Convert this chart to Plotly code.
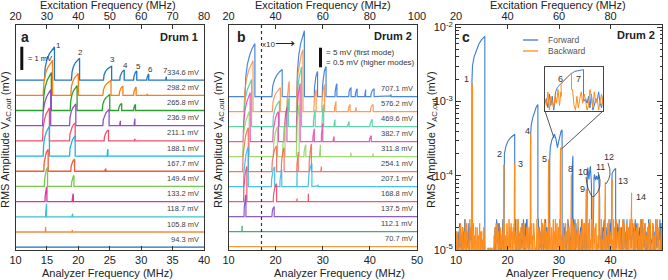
import plotly.graph_objects as go

FONT = "Liberation Sans, Arial, Helvetica, sans-serif"
W, H = 668, 280

# ---------------- Panel a (Drum 1) ----------------
a_labels = ["334.6 mV", "298.2 mV", "265.8 mV", "236.9 mV", "211.1 mV", "188.1 mV",
            "167.7 mV", "149.4 mV", "133.2 mV", "118.7 mV", "105.8 mV", "94.3 mV"]
a_colors = ["#1f77c4", "#ff7f0e", "#2ca02c", "#8c52c4", "#f4506a", "#1cb3ea",
            "#f45a3a", "#78c850", "#e0349c", "#3cc4c8", "#f58a3c", "#1f6fb8"]
# peaks per trace: (onset MHz, jump-down MHz, height mV)
a_peaks = [
    [(14.6, 16.2, 1.42), (18.9, 20.2, 0.94), (24.0, 25.3, 0.60), (26.6, 27.3, 0.43),
     (28.8, 29.3, 0.39), (30.9, 31.2, 0.26), (33.9, 34.0, 0.15)],
    [(14.4, 15.9, 1.50), (18.8, 20.0, 0.94), (23.9, 25.2, 0.64), (26.5, 27.1, 0.39),
     (28.8, 29.2, 0.36), (30.9, 31.0, 0.06)],
    [(14.4, 15.7, 1.63), (18.7, 19.8, 1.07), (23.8, 25.0, 0.69), (26.4, 26.9, 0.30),
     (28.8, 29.1, 0.26)],
    [(14.3, 15.6, 1.55), (18.6, 19.6, 0.94), (23.9, 24.9, 0.69), (26.6, 26.7, 0.21),
     (28.9, 29.0, 0.30)],
    [(14.3, 15.4, 1.42), (18.6, 19.5, 0.77), (24.1, 24.8, 0.47), (28.9, 29.0, 0.09)],
    [(14.4, 15.4, 1.29), (18.6, 19.5, 0.86), (24.6, 24.7, 0.30)],
    [(14.5, 15.2, 0.94), (18.8, 19.4, 0.52), (24.2, 24.4, 0.11)],
    [(14.6, 15.1, 0.82), (18.9, 19.3, 0.47)],
    [(14.7, 15.0, 0.64), (19.0, 19.2, 0.34)],
    [(14.8, 14.95, 0.56), (19.0, 19.1, 0.13)],
    [(14.75, 14.8, 0.21), (19.0, 19.05, 0.09)],
    [],
]
a_peak_numbers = ["1", "2", "3", "4", "5", "6", "7"]
a_step = 0.652          # mV between stacked traces
a_scale_bar_mV = 1.0

# ---------------- Panel b (Drum 2) ----------------
b_labels = ["707.1 mV", "576.2 mV", "469.6 mV", "382.7 mV", "311.8 mV", "254.1 mV",
            "207.1 mV", "168.8 mV", "137.5 mV", "112.1 mV", "70.7 mV"]
b_colors = ["#2f72d8", "#ff8a3d", "#48cc9c", "#e040a8", "#8ed35c", "#f5604c",
            "#2ab6ea", "#f23c5c", "#7a3fc2", "#22a062", "#f28c1e"]
b_peaks = [
    [(13.5, 15.6, 13.5), (19.2, 21.4, .69), (24.5, 26.1, 1.68), (28.2, 28.9, .64), (29.9, 30.7, .77),
     (32.6, 33.0, .33), (35.5, 36.0, .23), (36.9, 37.3, .20), (38.9, 39.1, .18), (40.2, 40.9, .20),
     (44.3, 44.5, .05)],
    [(13.3, 15.2, 13.0), (19.3, 21.0, .61), (22.4, 22.9, .77), (24.4, 25.8, 1.58), (28.1, 28.6, .56),
     (29.8, 30.4, .69), (32.5, 32.8, .26), (35.4, 35.8, .18), (36.9, 37.1, .10), (40.1, 40.7, .18)],
    [(13.2, 14.9, 12.0), (19.4, 20.8, .66), (22.2, 22.7, .71), (24.4, 25.5, 1.53), (28.0, 28.4, .41),
     (29.8, 30.2, .56), (32.4, 32.6, .18), (35.3, 35.6, .13), (40.0, 40.5, .18)],
    [(13.1, 14.6, 12.5), (19.4, 20.6, .77), (21.8, 22.4, .87), (24.4, 25.2, 1.48), (27.9, 28.2, .33),
     (29.7, 30.0, .46), (32.2, 32.4, .13), (39.9, 40.3, .15)],
    [(13.0, 14.4, 11.5), (19.5, 20.4, .77), (21.5, 22.0, .82), (24.4, 25.0, 1.33), (26.0, 26.4, .30),
     (29.3, 29.5, .30), (35.9, 36.0, .10), (40.6, 40.7, .08)],
    [(13.0, 14.2, 11.2), (19.2, 20.2, .66), (21.2, 21.8, .61), (24.5, 24.8, .50), (27.1, 27.6, .71),
     (29.6, 29.7, .13)],
    [(13.2, 14.2, 10.2), (19.1, 19.8, .51), (20.9, 21.3, .43), (24.5, 24.55, .41), (26.9, 27.7, .59),
     (29.0, 29.05, .05)],
    [(13.2, 13.9, 9.0), (19.5, 20.2, .46), (24.5, 24.55, .08), (26.9, 26.95, .20)],
    [(13.3, 13.7, 5.6), (19.2, 19.7, .26)],
    [(12.85, 12.9, 1.5)],
    [],
]
b_step = 3.83            # plot units (mV of first mode) between traces
b_split_MHz = 17.0       # right of this line higher modes are magnified x10
b_gain_high = 10.0

# ---------------- Panel c (Drum 2, log) ----------------
c_f_start, c_f_step = 10.0, 0.1
c_noise_fwd = ("2504613827" "4137062958" "0625381746" "3718250469" "1493607285" "5260831010"
               "0101201020" "1002047169" "5383815402" "6970964275" "1834372816" "0592859034"
               "7165106728" "3941683947" "2503497162" "5080825316" "9474260783" "1592917504"
               "6385038269" "4171754093" "2863690418" "5726143987" "0352816497" "4918263705"
               "1675930428" "3049176582" "6281534970" "2793648105" "4506172893" "1367285049"
               "5842916370" "0258473916" "3714089625" "6190354782" "2548761093" "4831607259"
               "1975423806" "5062938714" "3487016592" "6723549180" "4")
c_noise_bwd = ("3615204738" "5207416293" "1846302957" "4062815370" "2730548162" "6041721010"
               "1020101201" "0120527384" "4816037252" "2694815038" "5039271846" "1748360529"
               "3925017486" "6182540739" "2470693815" "4853120967" "0716349285" "3592806174"
               "5281473069" "1639058427" "4927150368" "2058364917" "6314829057" "0872563941"
               "3506197248" "5163742809" "1429608573" "4780315296" "2397041658" "6051873924"
               "3628409175" "0934562817" "5217938460" "1863074592" "4395218706" "2748605139"
               "6019374825" "3572816940" "0486253197" "5934701268" "3")
# forward sweep branches: (MHz, log10 V in mV)
c_fwd_peaks = [
    [(13.1, -2.73), (13.2, -2.52), (13.5, -2.40), (13.9, -2.31), (14.4, -2.23), (14.9, -2.17), (15.3, -2.14), (15.6, -2.12)],
    [(19.3, -3.85), (19.4, -3.70), (19.7, -3.60), (20.1, -3.53), (20.7, -3.48), (21.4, -3.44)],
    [(24.5, -3.44), (24.6, -3.32), (24.9, -3.22), (25.3, -3.12), (25.6, -3.07), (25.9, -3.04)],
    [(28.2, -3.78), (28.3, -3.62), (28.6, -3.52), (28.9, -3.46), (29.1, -3.44), (29.4, -3.50), (29.7, -3.62),
     (29.9, -3.55), (30.2, -3.45), (30.4, -3.40), (30.6, -3.38)],
    [(32.5, -4.02), (32.6, -3.85), (32.7, -3.73)],
    [(35.4, -4.30), (35.5, -3.96), (35.6, -3.89), (35.8, -4.05), (36.0, -3.92), (36.1, -3.87), (36.3, -4.12)],
    [(36.7, -4.25), (36.8, -4.02), (36.9, -3.98), (37.1, -4.06), (37.3, -4.00), (37.5, -4.05), (37.7, -3.98), (37.9, -4.30)],
    [(40.2, -4.10), (40.3, -3.97), (40.6, -3.93), (41.0, -3.90)],
]
# backward sweep jumps: (MHz, log10 V in mV)
c_bwd_peaks = [(13.2, -2.75), (19.3, -3.85), (21.4, -3.84), (24.5, -3.44), (28.0, -3.78), (30.3, -3.62),
               (32.4, -3.98), (35.3, -4.18), (36.6, -4.27), (37.8, -4.18), (39.0, -4.09), (40.3, -4.05),
               (44.1, -4.23)]
c_floor = 1e-6
c_mode_labels = ["1", "2", "3", "4", "5", "6", "7", "8", "9", "10", "11", "12", "13", "14"]

# inset (modes 6,7)
i_f_start, i_f_step = 29.4, 0.035
i_noise_fwd = "35172604835261704825316072845361702548316"
i_noise_bwd = "52806417392860514739206158374029618350472"
i_fwd_peak = [(29.66, -3.58), (29.70, -3.53), (29.80, -3.48), (29.92, -3.43), (30.02, -3.38),
              (30.12, -3.35), (30.22, -3.34), (30.33, -3.33)]
i_bwd_peak = [(29.79, -3.50), (29.86, -3.45), (29.94, -3.41), (30.04, -3.37)]

# ---------------- helpers ----------------
DUFF_T = [0.0, 0.08, 0.25, 0.5, 0.75, 1.0]
DUFF_Y = [0.0, 0.38, 0.62, 0.80, 0.92, 1.0]


def stacked(x0, x1, base, peaks, gain):
    xs, ys = [x0], [base]
    for f0, f1, h in peaks:
        hh = h * gain(f1)
        xs.append(f0); ys.append(base)
        for t, yf in zip(DUFF_T, DUFF_Y):
            xs.append(f0 + t * (f1 - f0)); ys.append(base + yf * hh)
        xs.append(f1); ys.append(base)
    xs.append(x1); ys.append(base)
    return xs, ys


def merge(grid, noise, peaks):
    xs, ys = [], []
    i, n = 0, len(grid)
    for pts in peaks:
        fs, fe = pts[0][0], pts[-1][0]
        while i < n and grid[i] < fs:
            xs.append(grid[i]); ys.append(noise[i]); i += 1
        xs.append(fs); ys.append(noise[min(i, n - 1)])
        for f, v in pts:
            xs.append(f); ys.append(v)
        while i < n and grid[i] <= fe:
            i += 1
        xs.append(fe); ys.append(noise[min(i, n - 1)])
    while i < n:
        xs.append(grid[i]); ys.append(noise[i]); i += 1
    return xs, ys


def px(x):
    return x / W


def py(y):
    return 1 - y / H


fig = go.Figure()

# panel a traces
na = len(a_labels)
for k in range(na):
    base = (na - 1 - k) * a_step
    xs, ys = stacked(10, 40, base, a_peaks[k], lambda f: 1.0)
    fig.add_trace(go.Scatter(x=xs, y=ys, mode="lines", line=dict(color=a_colors[k], width=1.3),
                             xaxis="x", yaxis="y", hoverinfo="skip"))

# panel b traces
nb = len(b_labels)
for k in range(nb):
    base = (nb - 1 - k) * b_step
    xs, ys = stacked(10, 50, base, b_peaks[k], lambda f: 1.0 if f < b_split_MHz else b_gain_high)
    fig.add_trace(go.Scatter(x=xs, y=ys, mode="lines", line=dict(color=b_colors[k], width=1.2),
                             opacity=0.85, xaxis="x2", yaxis="y2", hoverinfo="skip"))

# panel c traces
grid = [c_f_start + c_f_step * i for i in range(len(c_noise_fwd))]
nf = [-5.08 + 0.055 * int(ch) for ch in c_noise_fwd]
nbw = [-5.08 + 0.055 * int(ch) for ch in c_noise_bwd]
bwd_pts = [[(f - 0.08, v - 0.35), (f, v)] for f, v in c_bwd_peaks]
fx, fy = merge(grid, nf, c_fwd_peaks)
bx, by = merge(grid, nbw, bwd_pts)
fig.add_trace(go.Scatter(x=fx, y=[10 ** v for v in fy], mode="lines", line=dict(color="#3a7bd5", width=1.1),
                         xaxis="x3", yaxis="y3", hoverinfo="skip"))
fig.add_trace(go.Scatter(x=[grid[0], grid[-1]], y=[c_floor, c_floor], mode="lines", line=dict(width=0),
                         xaxis="x3", yaxis="y3", hoverinfo="skip"))
fig.add_trace(go.Scatter(x=bx, y=[10 ** v for v in by], mode="lines", line=dict(color="#ff8c1a", width=1.0),
                         fill="tonexty", fillcolor="rgba(255,140,26,0.72)",
                         xaxis="x3", yaxis="y3", hoverinfo="skip"))

# inset
igrid = [i_f_start + i_f_step * i for i in range(len(i_noise_fwd))]
inf = [-3.79 + 0.026 * int(ch) for ch in i_noise_fwd]
inb = [-3.79 + 0.026 * int(ch) for ch in i_noise_bwd]
ifx, ify = merge(igrid, inf, [i_fwd_peak])
ibx, iby = merge(igrid, inb, [i_bwd_peak])
fig.add_trace(go.Scatter(x=ifx, y=ify, mode="lines", line=dict(color="#3a7bd5", width=1.0),
                         xaxis="x7", yaxis="y7", hoverinfo="skip"))
fig.add_trace(go.Scatter(x=ibx, y=iby, mode="lines", line=dict(color="#ff8c1a", width=1.0),
                         xaxis="x7", yaxis="y7", hoverinfo="skip"))

# empty traces to activate top axes
for xa, ya in (("x4", "y"), ("x5", "y2"), ("x6", "y3")):
    fig.add_trace(go.Scatter(x=[None], y=[None], xaxis=xa, yaxis=ya, showlegend=False, hoverinfo="skip"))

YDOM = [py(250), py(25)]
XA = [px(15.5), px(204)]
XB = [px(228.5), px(417)]
XC = [px(456), px(662)]
LC = "#333333"
tickfont = dict(size=11, color="#222", family=FONT)
common_x = dict(showline=True, linecolor=LC, linewidth=1, ticks="inside", ticklen=4, tickcolor=LC,
                showgrid=False, zeroline=False, tickfont=tickfont, fixedrange=True, automargin=False)
common_y = dict(showline=True, linecolor=LC, linewidth=1, mirror=True, ticks="", showticklabels=False,
                showgrid=False, zeroline=False, fixedrange=True, automargin=False)

decades = [1e-5, 1e-4, 1e-3, 1e-2]
minor_vals = [m * d for d in [1e-5, 1e-4, 1e-3] for m in range(2, 10)]

a_range_lo = -0.12
a_range_hi = a_range_lo + 225 / 23.3

fig.update_layout(
    template="none",
    width=W, height=H, margin=dict(l=0, r=0, t=0, b=0, autoexpand=False), showlegend=False,
    paper_bgcolor="white", plot_bgcolor="white", font=dict(family=FONT, color="#222"),
    xaxis=dict(domain=XA, range=[10, 40], tickvals=[10, 15, 20, 25, 30, 35, 40], anchor="y", **common_x),
    yaxis=dict(domain=YDOM, range=[a_range_lo, a_range_hi], anchor="x", **common_y),
    xaxis2=dict(domain=XB, range=[10, 50], tickvals=[10, 20, 30, 40, 50], anchor="y2", **common_x),
    yaxis2=dict(domain=YDOM, range=[-0.84, 56.56], anchor="x2", **common_y),
    xaxis3=dict(domain=XC, range=[10, 50], tickvals=[10, 20, 30, 40, 50], anchor="y3", **common_x),
    yaxis3=dict(domain=YDOM, type="log", range=[-5.0, -1.967], anchor="x3", showline=True, linecolor=LC,
                mirror="ticks", ticks="inside", ticklen=5, tickcolor=LC, tickvals=decades,
                ticktext=["10<sup>-5</sup>", "10<sup>-4</sup>", "10<sup>-3</sup>", "10<sup>-2</sup>"],
                tickfont=tickfont, showgrid=False, zeroline=False, fixedrange=True, automargin=False,
                minor=dict(tickvals=minor_vals, ticks="inside", ticklen=2.5, tickcolor=LC, showgrid=False)),
    xaxis4=dict(overlaying="x", side="top", anchor="y", range=[20, 80], tickvals=[20, 30, 40, 50, 60, 70, 80],
                **common_x),
    xaxis5=dict(overlaying="x2", side="top", anchor="y2", range=[20, 100], tickvals=[20, 40, 60, 80, 100],
                **common_x),
    xaxis6=dict(overlaying="x3", side="top", anchor="y3", range=[20, 100], tickvals=[20, 40, 60, 80, 100],
                **common_x),
    xaxis7=dict(domain=[px(545), px(603)], range=[i_f_start, i_f_start + i_f_step * (len(igrid) - 1)],
                anchor="y7", showline=True, mirror=True, linecolor="#444", linewidth=1.2, ticks="",
                showticklabels=False, showgrid=False, zeroline=False, fixedrange=True, automargin=False),
    yaxis7=dict(domain=[py(111), py(67)], range=[-3.80, -3.30], anchor="x7", showline=True, mirror=True,
                linecolor="#444", linewidth=1.2, ticks="", showticklabels=False, showgrid=False,
                zeroline=False, fixedrange=True, automargin=False),
)

ann = []


def T(x, y, text, size=11, xanchor="center", bold=False, color="#222", angle=0, xref="paper", yref="paper"):
    if bold:
        text = "<b>" + text + "</b>"
    ann.append(dict(x=x, y=y, xref=xref, yref=yref, text=text, showarrow=False, xanchor=xanchor,
                    yanchor="middle", textangle=angle, font=dict(size=size, color=color, family=FONT)))


# axis titles
T(px(107.5), py(5), "Excitation Frequency (MHz)", 11)
T(px(323), py(5), "Excitation Frequency (MHz)", 11)
T(px(558), py(5), "Excitation Frequency (MHz)", 11)
T(px(107.5), py(273), "Analyzer Frequency (MHz)", 11)
T(px(339), py(273), "Analyzer Frequency (MHz)", 11)
T(px(571.7), py(273), "Analyzer Frequency (MHz)", 11)
ytitle = "RMS Amplitude V<sub>AC,out</sub> (mV)"
T(px(6), py(140), ytitle, 11, angle=-90)
T(px(219), py(140), ytitle, 11, angle=-90)
T(px(432), py(140), ytitle, 11, angle=-90)

# panel labels
T(px(25), py(37), "a", 14, bold=True)
T(px(241), py(37), "b", 14, bold=True)
T(px(466), py(37), "c", 14, bold=True)
T(px(200), py(37), "Drum 1", 11, xanchor="right", bold=True)
T(px(414), py(36), "Drum 2", 11, xanchor="right", bold=True)
T(px(657), py(35), "Drum 2", 11, xanchor="right", bold=True)

# trace labels a and b (in data coords)
for k, lab in enumerate(a_labels):
    base = (na - 1 - k) * a_step
    T(39.5, base + 0.34, lab, 7.5, xanchor="right", color="#444", xref="x", yref="y")
for k, lab in enumerate(b_labels):
    base = (nb - 1 - k) * b_step
    T(49.5, base + 2.1, lab, 7.5, xanchor="right", color="#444", xref="x2", yref="y2")

# mode numbers on top trace of a
top_base = (na - 1) * a_step
a_num_dx = [0.7, 0.15, 0.2, 0.2, 0.3, 0.25, -0.2]
a_num_dy = [0.05, 0.25, 0.3, 0.2, 0.2, 0.2, 0.25]
for (f0, f1, h), lab, dx, dy in zip(a_peaks[0], a_peak_numbers, a_num_dx, a_num_dy):
    T(f1 + dx, top_base + h + dy, lab, 8, color="#333", xref="x", yref="y")

# scale bar texts
T(px(26), py(58), "= 1 mV", 7.5, xanchor="left")
T(px(324), py(52), "= 5 mV (first mode)", 8, xanchor="left", color="#333")
T(px(324), py(62), "= 0.5 mV (higher modes)", 8, xanchor="left", color="#333")
T(px(268), py(44), "x10", 8, color="#333")
T(px(285), py(43), "⟶", 14, color="#222")

# panel c mode labels
c_label_px = [(466, 79), (499, 154), (520, 164), (527, 131), (544.5, 158.5), (560, 79), (578.5, 79),
              (570, 168.5), (582, 189), (583, 172), (600, 166.5), (608.5, 157), (623, 181), (640.5, 196.5)]
for lab, (xx, yy) in zip(c_mode_labels, c_label_px):
    T(px(xx), py(yy), lab, 9, color="#333")

# legend c
T(px(546), py(40), "Forward", 8.5, xanchor="left", color="#555")
T(px(546), py(51), "Backward", 8.5, xanchor="left", color="#555")

shapes = []
shapes.append(dict(type="line", xref="paper", yref="paper", x0=px(523), x1=px(538), y0=py(40), y1=py(40),
                   line=dict(color="#3a7bd5", width=1.3)))
shapes.append(dict(type="line", xref="paper", yref="paper", x0=px(523), x1=px(538), y0=py(51), y1=py(51),
                   line=dict(color="#ff8c1a", width=1.3)))
# scale bars
bar_top_a = a_range_lo + (250 - 46.7) / 23.3
shapes.append(dict(type="rect", xref="paper", yref="y", x0=px(20.3), x1=px(23.3), y0=bar_top_a - a_scale_bar_mV,
                   y1=bar_top_a, fillcolor="#111", line=dict(width=0)))
bar_top_b = 50.77
shapes.append(dict(type="rect", xref="paper", yref="y2", x0=px(319), x1=px(322), y0=bar_top_b - 5.0,
                   y1=bar_top_b, fillcolor="#111", line=dict(width=0)))
# dotted split line in b
shapes.append(dict(type="line", xref="x2", yref="y2 domain", x0=b_split_MHz, x1=b_split_MHz, y0=0, y1=1,
                   line=dict(color="#333", width=1.2, dash="dot")))
# inset connector lines
shapes.append(dict(type="line", xref="paper", yref="paper", x0=px(545), y0=py(111), x1=px(554), y1=py(138),
                   line=dict(color="#444", width=0.9)))
shapes.append(dict(type="line", xref="paper", yref="paper", x0=px(603), y0=py(111), x1=px(561.5), y1=py(149),
                   line=dict(color="#444", width=0.9)))


def curve(p0, c, p1):
    return "M %.5f,%.5f Q %.5f,%.5f %.5f,%.5f" % (px(p0[0]), py(p0[1]), px(c[0]), py(c[1]), px(p1[0]), py(p1[1]))


for p0, c, p1 in [((586, 177), (587, 190), (592.5, 197)), ((598, 172), (604, 188), (593.5, 197)),
                  ((608, 163), (613, 175), (606, 184))]:
    shapes.append(dict(type="path", xref="paper", yref="paper", path=curve(p0, c, p1),
                       line=dict(color="#333", width=0.8)))

fig.update_layout(annotations=ann, shapes=shapes)
fig.write_html("out.html", config={"displayModeBar": False},
               post_script="document.body.style.margin='0px';document.body.style.overflow='hidden';")
